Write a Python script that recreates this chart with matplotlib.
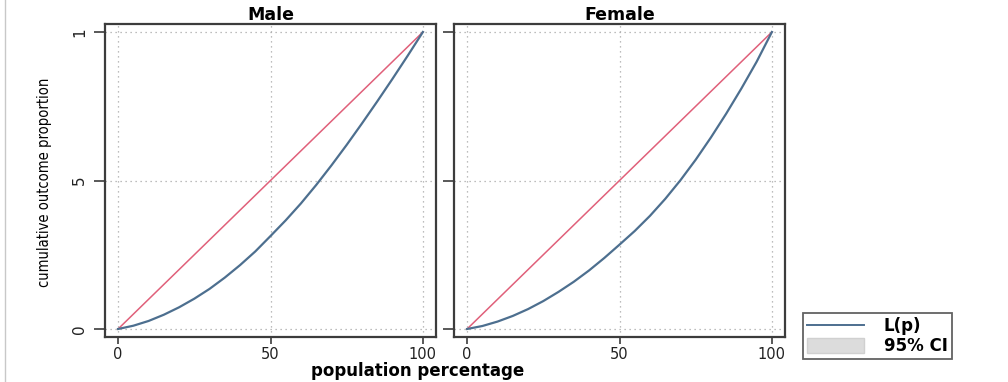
import matplotlib
matplotlib.use("Agg")
import matplotlib.pyplot as plt
from matplotlib.lines import Line2D
from matplotlib.patches import Patch
from matplotlib import font_manager

# ---- data ----
pop_pct = [0, 5, 10, 15, 20, 25, 30, 35, 40, 45, 50, 55, 60, 65, 70, 75, 80, 85, 90, 95, 100]
male_Lp = [0, 0.011, 0.027, 0.048, 0.073, 0.102, 0.135, 0.173, 0.215, 0.261, 0.313,
           0.366, 0.423, 0.485, 0.551, 0.620, 0.692, 0.766, 0.842, 0.920, 1.0]
female_Lp = [0, 0.010, 0.025, 0.044, 0.067, 0.094, 0.125, 0.159, 0.197, 0.239, 0.284,
             0.330, 0.381, 0.438, 0.501, 0.570, 0.645, 0.725, 0.810, 0.900, 1.0]
equality_x = [0, 100]
equality_y = [0, 1]
panels = ["Male", "Female"]
x_ticks = [0, 50, 100]
x_ticklabels = ["0", "50", "100"]
y_ticks = [0, 0.5, 1]
y_ticklabels = ["0", "5", "1"]

BLUE = "#4d6f8f"
RED = "#e0607a"
FRAME = "#3c3c3c"

# pick an upright condensed face for the y title if one is installed
narrow_fp = None
cands = []
for f in font_manager.fontManager.ttflist:
    cond = ("Narrow" in f.name or "Condensed" in f.name or
            f.stretch in ("condensed", "semi-condensed", "extra-condensed", "ultra-condensed"))
    if cond and f.style == "normal" and f.weight in ("normal", 400, "regular", "book"):
        cands.append(f)
if cands:
    cands.sort(key=lambda f: (0 if "Liberation" in f.name else 1 if "DejaVu" in f.name else 2))
    narrow_fp = font_manager.FontProperties(fname=cands[0].fname)

W, H = 1008, 382
fig = plt.figure(figsize=(W / 100, H / 100), dpi=100)

def fx(px):
    return px / W

def fy(py):
    return 1 - py / H

boxes = [(105, 436), (454, 785)]
top, bottom = 24, 337
for i, (name, (l, r)) in enumerate(zip(panels, boxes)):
    ax = fig.add_axes([fx(l), fy(bottom), fx(r - l), fy(top) - fy(bottom)])
    ax.plot(equality_x, equality_y, color=RED, lw=1.1, zorder=3)
    ax.plot(pop_pct, male_Lp if i == 0 else female_Lp, color=BLUE, lw=1.6, zorder=4,
            solid_joinstyle="round")
    ax.set_xlim(-4.3, 104.3)
    ax.set_ylim(-0.027, 1.027)
    ax.set_xticks(x_ticks)
    ax.set_xticklabels(x_ticklabels, fontsize=10.5, color="#222222")
    ax.set_yticks(y_ticks)
    if i == 0:
        ax.set_yticklabels(y_ticklabels, fontsize=11, rotation=90, va="center", color="#222222")
    else:
        ax.set_yticklabels([])
    ax.tick_params(axis="x", direction="out", length=5, width=1.2, color=FRAME, pad=2)
    ax.tick_params(axis="y", direction="out", length=8, width=1.2, color=FRAME, pad=5)
    ax.grid(True, linestyle=(0, (1, 3)), color="#a8a8a8", lw=0.9)
    ax.set_axisbelow(True)
    for s in ax.spines.values():
        s.set_color(FRAME)
        s.set_linewidth(1.6)
    ax.set_title(name, fontsize=12.5, fontweight="bold", pad=2)

if narrow_fp is not None:
    fig.text(fx(45), fy(182), "cumulative outcome proportion", rotation=90,
             ha="center", va="center", fontproperties=narrow_fp, fontsize=10.5)
else:
    fig.text(fx(45), fy(182), "cumulative outcome proportion", rotation=90,
             ha="center", va="center", fontsize=8.8)
fig.text(fx(418), fy(371), "population percentage", ha="center", va="center",
         fontsize=12, fontweight="bold")

# left edge artifact line
fig.add_artist(Line2D([fx(5), fx(5)], [0, 1], color="#c8c8c8", lw=1))

handles = [Line2D([0], [0], color=BLUE, lw=1.4),
           Patch(facecolor="#dcdcdc", edgecolor="#d0d0d0")]
leg = fig.legend(handles, ["L(p)", "95% CI"], loc="upper left",
                 bbox_to_anchor=(fx(803), fy(313)), frameon=True, fancybox=False,
                 prop={"size": 12, "weight": "bold"}, handlelength=3.4,
                 handleheight=1.0, borderpad=0.25, labelspacing=0.1,
                 handletextpad=1.2, borderaxespad=0)
leg.get_frame().set_edgecolor(FRAME)
leg.get_frame().set_linewidth(1.3)

fig.savefig("out.png", dpi=100)
